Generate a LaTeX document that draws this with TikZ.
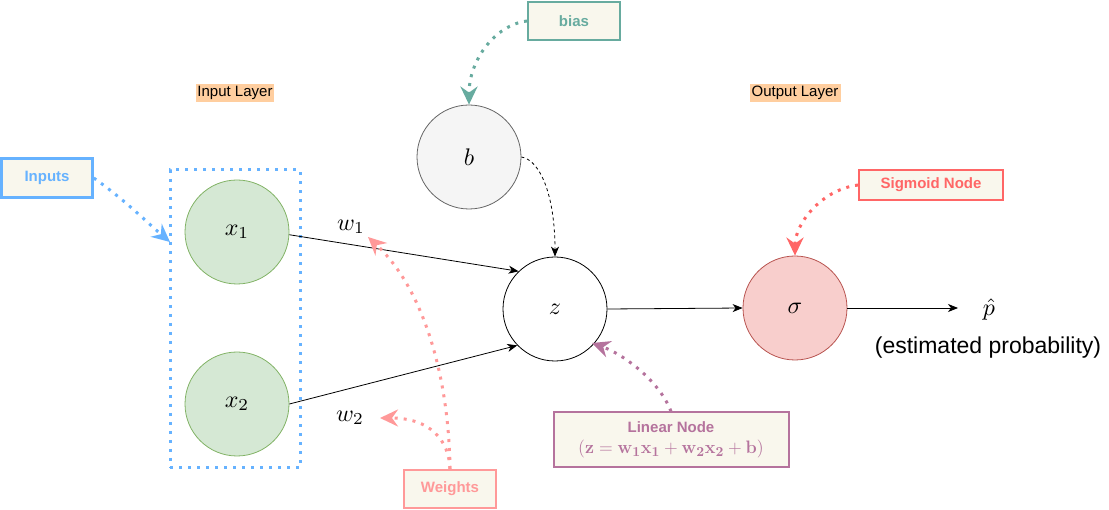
\documentclass[tikz,border=0pt]{standalone}
\usepackage[no-math]{fontspec}
\usepackage{graphicx}
\newfontfamily\hv{Liberation Sans}
\newcommand\mlab[1]{\scalebox{2.4}{$#1$}}
\usetikzlibrary{arrows.meta}
\definecolor{inblue}{HTML}{66B2FF}
\definecolor{boxfill}{HTML}{F9F7ED}
\definecolor{gfill}{HTML}{D5E8D4}
\definecolor{gline}{HTML}{82B366}
\definecolor{bfill}{HTML}{F5F5F5}
\definecolor{bline}{HTML}{666666}
\definecolor{sfill}{HTML}{F8CECC}
\definecolor{sline}{HTML}{B85450}
\definecolor{tealc}{HTML}{67AB9F}
\definecolor{sigred}{HTML}{FF6666}
\definecolor{wpink}{HTML}{FF9999}
\definecolor{lpurple}{HTML}{B5739D}
\definecolor{layerbg}{HTML}{FFCE9F}
\begin{document}
\begin{tikzpicture}[x=1pt,y=-1pt,
  every node/.style={inner sep=0pt},
  neuron/.style={circle, minimum size=104pt, line width=0.8pt, inner sep=0pt},
  note/.style={draw, line width=2pt, fill=boxfill, font=\hv\bfseries\fontsize{15}{18}\selectfont, align=center},
  layer/.style={fill=layerbg, font=\hv\fontsize{15}{18}\selectfont, minimum width=78pt, minimum height=18pt},
  dots/.style={line width=3pt, dash pattern=on 3pt off 6pt},
  ann/.style={dots, -{Stealth[length=18pt,width=17pt,inset=6pt]}},
  conn/.style={line width=0.8pt, -{Stealth[length=10pt,width=8pt,inset=3pt]}},
]
\useasboundingbox (0,0) rectangle (1109,510);

% layer labels
\node[layer] (inlayer) at (235,93) {Input Layer};
\node[layer, minimum width=91pt] (outlayer) at (795,93) {Output Layer};

% neurons
\node[neuron, draw=gline, fill=gfill] (x1) at (237,232) {\mlab{x_1}};
\node[neuron, draw=gline, fill=gfill] (x2) at (237,404) {\mlab{x_2}};
\node[neuron, draw=bline, fill=bfill] (b) at (469,157) {\mlab{b}};
\node[neuron, draw=black, fill=white] (z) at (555,309) {\mlab{z}};
\node[neuron, draw=sline, fill=sfill] (sigma) at (795,308) {\mlab{\sigma}};

% dotted input group
\node[draw=inblue, dots, minimum width=130pt, minimum height=298pt] (group) at (235,319) {};

% annotation boxes
\node[note, draw=inblue, text=inblue, line width=2.5pt, minimum width=91pt, minimum height=39pt] (inputs) at (47,178) {Inputs};
\node[note, draw=tealc, text=tealc, minimum width=92pt, minimum height=38pt] (bias) at (574,21) {bias};
\node[note, draw=sigred, text=sigred, minimum width=144pt, minimum height=30pt] (signote) at (931,185) {Sigmoid Node};
\node[note, draw=wpink, text=wpink, minimum width=92pt, minimum height=38pt] (weights) at (450,489) {Weights};
\node[note, draw=lpurple, text=lpurple, minimum width=235pt, minimum height=55pt] (linear) at (671,440)
  {Linear Node\\[3pt]\scalebox{1.25}{$\mathbf{(z = w_1x_1 + w_2x_2 + b)}$}};

% labels
\node (w1) at (351,227) {\mlab{w_1}};
\node (w2) at (350,418) {\mlab{w_2}};
\node (phat) at (989,310) {\mlab{\hat{p}}};
\node[font=\hv\fontsize{23}{27}\selectfont] (est) at (988,348) {(estimated probability)};

% coordinates
\coordinate (pend) at (958,308);
\coordinate (inTip) at (170,242);
\coordinate (w1Tip) at (368,237);
\coordinate (w2Tip) at (380,418);
\coordinate (linTip) at (592,343);

% main connections
\draw[conn] (x1.-3) -- (z.134);
\draw[conn] (x2.east) -- (z.-136);
\draw[conn] (z.east) -- (sigma.west);
\draw[conn] (sigma.east) -- (pend);
\draw[conn, dash pattern=on 3pt off 3pt] (b.east) .. controls (540,160) and (555,195) .. (z.north);

% annotation arrows
\draw[ann, inblue] (inputs.east) .. controls (125,200) and (150,225) .. (inTip);
\draw[ann, tealc] (bias.west) .. controls (495,25) and (469,60) .. (b.north);
\draw[ann, sigred] (signote.west) .. controls (820,190) and (795,225) .. (sigma.north);
\draw[ann, wpink] (weights.north) .. controls (449,380) and (425,290) .. (w1Tip);
\draw[ann, wpink] (weights.north) .. controls (449,440) and (430,418) .. (w2Tip);
\draw[ann, lpurple] (linear.north) .. controls (660,382) and (625,355) .. (linTip);
\end{tikzpicture}
\end{document}
